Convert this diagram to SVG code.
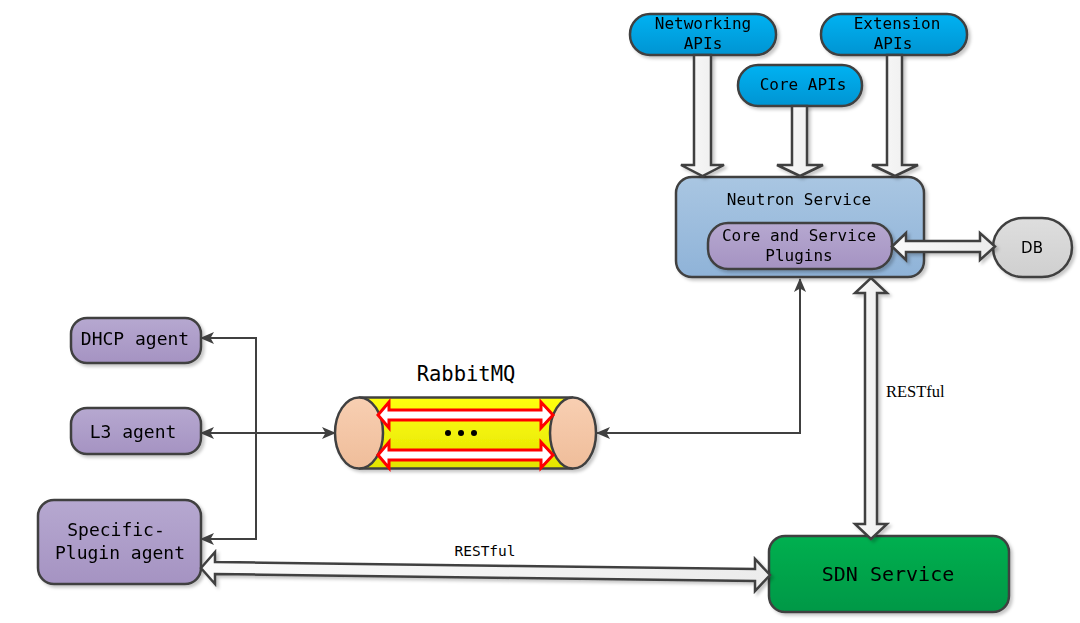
<svg xmlns="http://www.w3.org/2000/svg" width="1080" height="623" viewBox="0 0 1080 623">
<defs>
<filter id="sh" x="-10%" y="-10%" width="130%" height="140%">
<feDropShadow dx="2.5" dy="2.5" stdDeviation="1.5" flood-color="#000" flood-opacity="0.22"/>
</filter>
<linearGradient id="gBlue" x1="0" y1="0" x2="0" y2="1"><stop offset="0" stop-color="#00b2f2"/><stop offset="1" stop-color="#0094d2"/></linearGradient>
<linearGradient id="gNeu" x1="0" y1="0" x2="0" y2="1"><stop offset="0" stop-color="#a9c6e2"/><stop offset="1" stop-color="#8fb3d8"/></linearGradient>
<linearGradient id="gPur" x1="0" y1="0" x2="0" y2="1"><stop offset="0" stop-color="#b6a8d0"/><stop offset="1" stop-color="#a593c2"/></linearGradient>
<linearGradient id="gGray" x1="0" y1="0" x2="0" y2="1"><stop offset="0" stop-color="#dedede"/><stop offset="1" stop-color="#cfcfcf"/></linearGradient>
<linearGradient id="gGreen" x1="0" y1="0" x2="0" y2="1"><stop offset="0" stop-color="#00b050"/><stop offset="1" stop-color="#009846"/></linearGradient>
<linearGradient id="gYel" x1="0" y1="0" x2="0" y2="1"><stop offset="0" stop-color="#ffff10"/><stop offset="1" stop-color="#e4e400"/></linearGradient>
<linearGradient id="gPeach" x1="0" y1="0" x2="0" y2="1"><stop offset="0" stop-color="#f8cfb2"/><stop offset="1" stop-color="#efbd9a"/></linearGradient>
<linearGradient id="gHol" x1="0" y1="0" x2="1" y2="0"><stop offset="0" stop-color="#fafafa"/><stop offset="1" stop-color="#ececec"/></linearGradient>
<marker id="ah" viewBox="0 0 14 12" refX="13" refY="6" markerWidth="14" markerHeight="12" markerUnits="userSpaceOnUse" orient="auto-start-reverse">
<path d="M0,0 L14,6 L0,12 L3.5,6 Z" fill="#404040"/>
</marker>
<style>
.node{stroke:#404040;stroke-width:2.5}
.t{font-family:"DejaVu Sans Mono","Liberation Mono",monospace;fill:#000;text-anchor:middle}
.conn{fill:none;stroke:#404040;stroke-width:2}
.hol{fill:url(#gHol);stroke:#404040;stroke-width:2.5;stroke-linejoin:miter}
.red{fill:#fff;stroke:#ff0000;stroke-width:3;stroke-linejoin:miter}
</style>
</defs>
<rect width="1080" height="623" fill="#fff"/>

<g id="networking-apis" filter="url(#sh)">
<rect class="node" x="630" y="14" width="146" height="41" rx="20" fill="url(#gBlue)"/>
<text class="t" x="703" y="29" style="font-size:16px">Networking</text>
<text class="t" x="703" y="49" style="font-size:16px">APIs</text>
</g>
<g id="extension-apis" filter="url(#sh)">
<rect class="node" x="821" y="14" width="146" height="41" rx="20" fill="url(#gBlue)"/>
<text class="t" x="897" y="29" style="font-size:16px">Extension</text>
<text class="t" x="893" y="49" style="font-size:16px">APIs</text>
</g>
<g id="core-apis" filter="url(#sh)">
<rect class="node" x="738" y="65" width="124" height="41" rx="20" fill="url(#gBlue)"/>
<text class="t" x="803" y="90" style="font-size:16px">Core APIs</text>
</g>

<g id="neutron-service" filter="url(#sh)">
<rect class="node" x="676" y="177" width="248" height="100" rx="16" fill="url(#gNeu)"/>
<text class="t" x="799" y="205" style="font-size:16px">Neutron Service</text>
</g>
<g id="core-service-plugins" filter="url(#sh)">
<rect class="node" x="708" y="223" width="184" height="46" rx="20" fill="url(#gPur)"/>
<text class="t" x="799" y="241" style="font-size:16px">Core and Service</text>
<text class="t" x="799" y="261" style="font-size:16px">Plugins</text>
</g>
<g id="db" filter="url(#sh)">
<rect class="node" x="993" y="218" width="79" height="59" rx="30" ry="29.5" fill="url(#gGray)"/>
<text x="1032" y="253" style="font-family:'DejaVu Sans','Liberation Sans',sans-serif;font-size:15px;fill:#000;text-anchor:middle">DB</text>
</g>

<g id="sdn-service" filter="url(#sh)">
<rect class="node" x="769" y="536" width="240" height="76" rx="16" fill="url(#gGreen)"/>
<text class="t" x="888" y="581" style="font-size:20px">SDN Service</text>
</g>

<g id="dhcp-agent" filter="url(#sh)">
<rect class="node" x="71" y="318" width="130" height="45" rx="16" fill="url(#gPur)"/>
<text class="t" x="135" y="345" style="font-size:18px">DHCP agent</text>
</g>
<g id="l3-agent" filter="url(#sh)">
<rect class="node" x="71" y="408" width="130" height="46" rx="16" fill="url(#gPur)"/>
<text class="t" x="133" y="438" style="font-size:18px">L3 agent</text>
</g>
<g id="specific-plugin-agent" filter="url(#sh)">
<rect class="node" x="38" y="500" width="163" height="84" rx="16" fill="url(#gPur)"/>
<text class="t" x="116" y="536" style="font-size:18px">Specific-</text>
<text class="t" x="120" y="559" style="font-size:18px">Plugin agent</text>
</g>

<g id="rabbitmq">
<text class="t" x="466" y="381" style="font-size:20.5px">RabbitMQ</text>
<g filter="url(#sh)">
<rect x="359" y="397.5" width="214" height="71" fill="url(#gYel)"/>
<line x1="359" y1="397.5" x2="573" y2="397.5" stroke="#404040" stroke-width="2.5"/>
<line x1="359" y1="468.5" x2="573" y2="468.5" stroke="#404040" stroke-width="2.5"/>
<ellipse class="node" cx="359" cy="433" rx="24" ry="35.5" fill="url(#gPeach)"/>
<ellipse class="node" cx="573" cy="433" rx="23" ry="35.5" fill="url(#gPeach)"/>
</g>
<polygon class="red" points="378,415 389,402 389,410 541,410 541,402 553,415 541,428 541,420 389,420 389,428"/>
<polygon class="red" points="378,455 389,442 389,450 541,450 541,442 553,455 541,468 541,460 389,460 389,468"/>
<circle cx="448" cy="433" r="3" fill="#000"/>
<circle cx="461" cy="433" r="3" fill="#000"/>
<circle cx="474" cy="433" r="3" fill="#000"/>
</g>

<g id="connectors">
<path class="conn" d="M201,338 H256 V539 H201" marker-start="url(#ah)" marker-end="url(#ah)"/>
<path class="conn" d="M201,433 H335" marker-start="url(#ah)" marker-end="url(#ah)"/>
<path class="conn" d="M597,433 H800 V279" marker-start="url(#ah)" marker-end="url(#ah)"/>
<g filter="url(#sh)">
<polygon class="hol" points="694,55 711,55 711,165 724,165 702.5,176 681,165 694,165"/>
<polygon class="hol" points="792,106 807,106 807,165 823,165 800,176 777,165 792,165"/>
<polygon class="hol" points="887,55 902,55 902,165 918,165 895,176 872,165 887,165"/>
<polygon class="hol" points="892,246.5 906,233 906,241 980,241 980,233 995,246.5 980,260 980,252 906,252 906,260"/>
<polygon class="hol" points="871,278 887,293 877,293 877,524 887,524 871,539 855,524 865,524 865,293 855,293"/>
<polygon class="hol" points="201,568 215,552 215,562 755,569 755,559 770,575 755,591 755,581 215,574 215,584"/>
</g>
<text x="886" y="397" style="font-family:'Liberation Serif','Times New Roman',serif;font-size:16.5px;fill:#000">RESTful</text>
<text class="t" x="485" y="556" style="font-size:14.5px">RESTful</text>
</g>
</svg>
